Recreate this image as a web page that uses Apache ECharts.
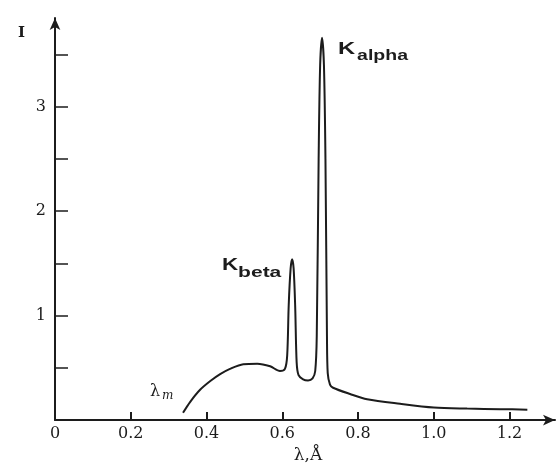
<!DOCTYPE html>
<html>
<head>
<meta charset="utf-8">
<script src="https://cdn.jsdelivr.net/npm/echarts@6/dist/echarts.min.js"></script>
<style>html,body{margin:0;padding:0;background:#fff;overflow:hidden}#c{width:558px;height:469px}</style>
</head>
<body>
<div id="c"></div>
<script>
// Wavelength (Å) and intensity
var lambda = [0.338,0.357,0.383,0.410,0.436,0.462,0.497,0.534,0.568,0.594,0.607,0.613,0.617,0.622,0.626,0.630,0.634,0.638,0.643,0.655,0.668,0.680,0.687,0.691,0.696,0.700,0.705,0.710,0.714,0.718,0.720,0.726,0.734,0.779,0.824,0.911,1.000,1.088,1.176,1.247];
var intensity = [0.07,0.175,0.29,0.374,0.44,0.49,0.535,0.54,0.515,0.47,0.49,0.62,1.10,1.45,1.54,1.45,1.10,0.55,0.43,0.39,0.38,0.40,0.47,0.80,2.50,3.40,3.66,3.40,2.50,0.80,0.45,0.34,0.31,0.25,0.20,0.156,0.12,0.11,0.105,0.10];
var xTickLabels = ['0','0.2','0.4','0.6','0.8','1.0','1.2'];
var yTickLabels = ['1','2','3'];
var peakBeta = [0.626, 1.54];
var peakAlpha = [0.705, 3.66];
var lambdaMin = [0.338, 0.07];

var pts = lambda.map(function(l,i){return [l, intensity[i]];});
var chart = echarts.init(document.getElementById('c'), null, {renderer:'canvas'});
var ink = '#1c1c1c';
chart.setOption({
  animation:false,
  backgroundColor:'#fff',
  grid:{left:55, right:3, top:18, bottom:44},
  xAxis:{
    type:'value', min:0, max:1.32, interval:0.2,
    name:'λ,Å', nameLocation:'middle', nameGap:25,
    nameTextStyle:{fontFamily:'DejaVu Serif', fontSize:17, color:ink, padding:[0,0,0,6]},
    axisLine:{lineStyle:{color:ink,width:2}, symbol:['none','arrow'], symbolSize:[8,12]},
    axisTick:{inside:true, length:8, lineStyle:{color:ink,width:2}},
    axisLabel:{fontFamily:'DejaVu Serif', fontSize:16, color:ink, margin:6, showMaxLabel:false,
      formatter:function(v){var s = v===0?'0':v.toFixed(1); return xTickLabels.indexOf(s)>=0?s:'';}},
    splitLine:{show:false}
  },
  yAxis:{
    type:'value', min:0, max:3.85, interval:0.5,
    name:'I', nameLocation:'end', nameGap:-8,
    nameTextStyle:{fontFamily:'DejaVu Serif', fontWeight:'bold', fontSize:15, color:ink, align:'right', verticalAlign:'top', padding:[0,30,0,0]},
    axisLine:{lineStyle:{color:ink,width:2}, symbol:['none','arrow'], symbolSize:[8,12]},
    axisTick:{inside:true, length:13, lineStyle:{color:ink,width:1.5}},
    axisLabel:{fontFamily:'DejaVu Serif', fontSize:16, color:ink, margin:9, showMaxLabel:false,
      formatter:function(v){var s=String(v); return yTickLabels.indexOf(s)>=0?s:'';}},
    splitLine:{show:false}
  },
  series:[{
    type:'line', data:pts, symbol:'none', smooth:0.3,
    lineStyle:{color:ink, width:2}
  }]
});

function px(p){return chart.convertToPixel({gridIndex:0}, p);}
var a = px(peakAlpha), b = px(peakBeta), m = px(lambdaMin);
var sans = 'Liberation Sans';
chart.setOption({graphic:[
  {type:'text', x:a[0]+16, y:a[1]+11, scaleX:1.4, style:{text:'K', font:'bold 17px '+sans, fill:ink, verticalAlign:'middle'}},
  {type:'text', x:a[0]+35, y:a[1]+18, scaleX:1.3, style:{text:'alpha', font:'bold 15px '+sans, fill:ink, verticalAlign:'middle'}},
  {type:'text', x:b[0]-70, y:b[1]+6, scaleX:1.4, style:{text:'K', font:'bold 16px '+sans, fill:ink, verticalAlign:'middle'}},
  {type:'text', x:b[0]-54, y:b[1]+14, scaleX:1.4, style:{text:'beta', font:'bold 15px '+sans, fill:ink, verticalAlign:'middle'}},
  {type:'text', x:m[0]-33, y:m[1]-21, style:{text:'λ', font:'16px DejaVu Serif', fill:ink, verticalAlign:'middle'}},
  {type:'text', x:m[0]-21, y:m[1]-17, style:{text:'m', font:'italic 12px DejaVu Serif', fill:ink, verticalAlign:'middle'}}
]});
</script>
</body>
</html>
